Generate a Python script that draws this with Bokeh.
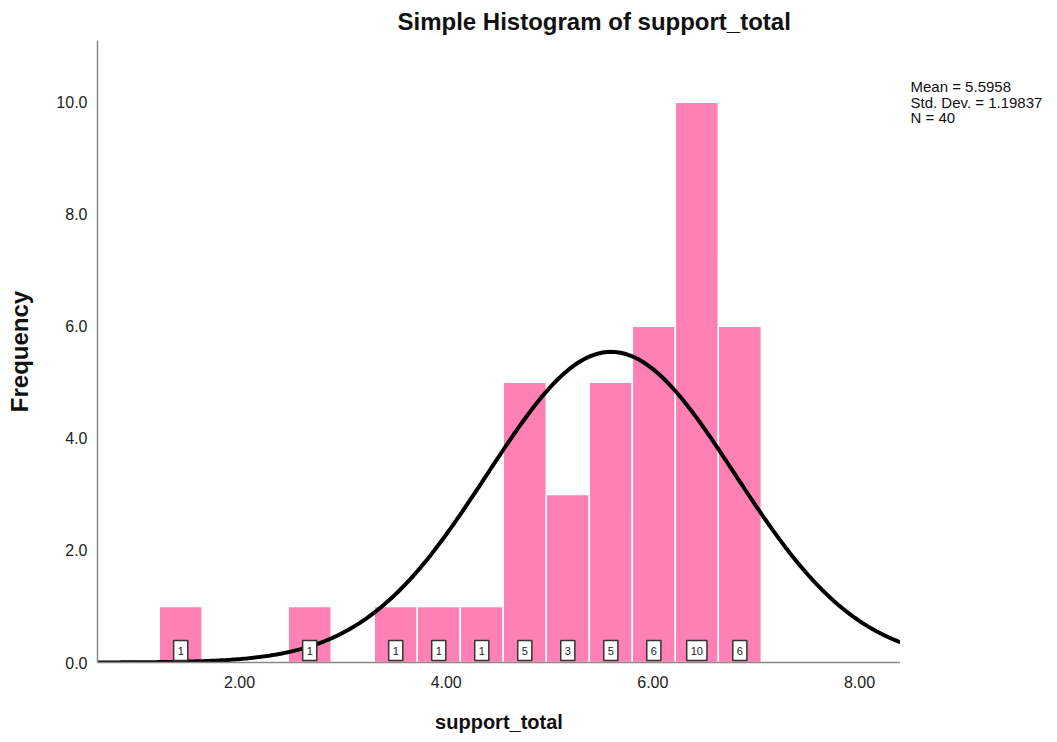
import numpy as np
from bokeh.plotting import figure
from bokeh.layouts import row
from bokeh.models import Range1d, FixedTicker, NumeralTickFormatter, ColumnDataSource, Label
from bokeh.embed import file_html
from bokeh.resources import INLINE
from bokeh.core.properties import value

# ---- data ----
counts = [1, 0, 0, 1, 0, 1, 1, 1, 5, 3, 5, 6, 10, 6]
bin_start = 1.222
bin_width = 0.4163
mean = 5.5958
std_dev = 1.19837
n_total = 40
x_ticks = [2, 4, 6, 8]
y_ticks = [0, 2, 4, 6, 8, 10]
title_text = "Simple Histogram of support_total"
x_label = "support_total"
y_label = "Frequency"
stats_lines = ["Mean = 5.5958", "Std. Dev. = 1.19837", "N = 40"]

# visible axis extents
x_lo, x_hi = 0.625, 8.397
y_lo, y_hi = 0.0, 11.10

FONT = "Liberation Sans"

W, H = 1057, 742
MAIN_W = 900
FRAME_TOP, FRAME_BOTTOM = 40, 662

# ---- derived ----
edges = [bin_start + i * bin_width for i in range(len(counts) + 1)]
nz = [i for i, c in enumerate(counts) if c > 0]
bars = ColumnDataSource(dict(
    left=[edges[i] for i in nz],
    right=[edges[i + 1] for i in nz],
    top=[counts[i] for i in nz],
    cx=[(edges[i] + edges[i + 1]) / 2 for i in nz],
    y0=[0] * len(nz),
    lab=[str(counts[i]) for i in nz],
))

xc = np.linspace(x_lo, x_hi, 400)
yc = n_total * bin_width * np.exp(-0.5 * ((xc - mean) / std_dev) ** 2) / (std_dev * np.sqrt(2 * np.pi))

p = figure(width=MAIN_W, height=H, output_backend="svg", toolbar_location=None,
           x_range=Range1d(x_lo, x_hi), y_range=Range1d(y_lo, y_hi),
           min_border_left=97, min_border_right=0, min_border_top=FRAME_TOP,
           min_border_bottom=H - FRAME_BOTTOM)
p.outline_line_color = None
p.grid.visible = False
p.background_fill_color = "white"

p.quad(left="left", right="right", top="top", bottom=0, source=bars,
       fill_color="#FF80B4", line_color="white", line_width=1.5)

p.line(xc, yc, line_color="black", line_width=4)

p.text(x="cx", y="y0", text="lab", source=bars, y_offset=-12,
       text_align="center", text_baseline="middle",
       text_font=value(FONT), text_font_size="11px", text_color="#222222",
       background_fill_color="white", border_line_color="#333333",
       border_line_width=1.5, padding=dict(left=4, right=4, top=6, bottom=6))

for ax, fmt, ticks in ((p.xaxis[0], "0.00", x_ticks), (p.yaxis[0], "0.0", y_ticks)):
    ax.ticker = FixedTicker(ticks=ticks)
    ax.formatter = NumeralTickFormatter(format=fmt)
    ax.axis_line_color = "#888888"
    ax.axis_line_width = 1.5
    ax.major_tick_line_color = None
    ax.minor_tick_line_color = None
    ax.major_tick_out = 0
    ax.major_tick_in = 0
    ax.major_label_text_font = FONT
    ax.major_label_text_font_size = "16px"
    ax.major_label_text_color = "#222222"
    ax.axis_label_text_font = FONT
    ax.axis_label_text_font_style = "bold"
    ax.axis_label_text_color = "#111111"
p.xaxis.major_label_standoff = 13
p.yaxis.major_label_standoff = 10
p.xaxis.axis_label = x_label
p.yaxis.axis_label = y_label
p.xaxis.axis_label_text_font_size = "20px"
p.yaxis.axis_label_text_font_size = "24px"
p.xaxis.axis_label_standoff = 20
p.yaxis.axis_label_standoff = 20

# title
p.title.text = title_text
p.title.align = "left"
p.title.offset = 300
p.title.vertical_align = "top"
p.title.standoff = 8
p.title.text_font = FONT
p.title.text_font_size = "24px"
p.title.text_font_style = "bold"
p.title.text_color = "#111111"

# statistics panel on the right; its frame is aligned with the main frame,
# so its y range is set so that data y == H - page pixel row
side = figure(width=W - MAIN_W, height=H, output_backend="svg", toolbar_location=None,
              x_range=Range1d(0, W - MAIN_W),
              y_range=Range1d(H - FRAME_BOTTOM, H - FRAME_TOP),
              x_axis_location=None, y_axis_location=None,
              min_border_left=0, min_border_right=0, min_border_top=FRAME_TOP,
              min_border_bottom=H - FRAME_BOTTOM)
side.outline_line_color = None
side.grid.visible = False
side.background_fill_color = "white"
for k, s in enumerate(stats_lines):
    side.add_layout(Label(x=10, y=H - 86 - k * 15.5, text=s,
                          text_align="left", text_baseline="alphabetic",
                          text_font=FONT, text_font_size="15px", text_color="#111111"))

layout = row(p, side, spacing=0)
open("out.html", "w").write(file_html(layout, INLINE))
